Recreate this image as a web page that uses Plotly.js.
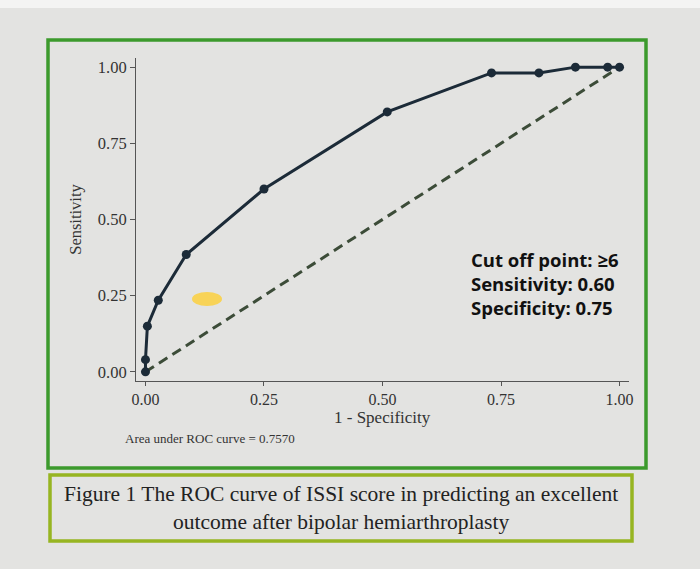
<!DOCTYPE html>
<html><head><meta charset="utf-8">
<script src="https://cdn.plot.ly/plotly-3.0.1.min.js"></script>
<style>html,body{margin:0;padding:0;background:#e3e3e1;}#chart{width:700px;height:569px;}</style>
</head><body><div id="chart"></div>
<script>
const fpr = [0, 0, 0.004, 0.027, 0.086, 0.25, 0.51, 0.73, 0.83, 0.907, 0.975, 1.0];
const tpr = [0, 0.04, 0.15, 0.235, 0.385, 0.60, 0.853, 0.981, 0.981, 1.0, 1.0, 1.0];
const refX = [0, 1];
const refY = [0, 1];
const tickVals = [0, 0.25, 0.5, 0.75, 1];
const tickText = ["0.00", "0.25", "0.50", "0.75", "1.00"];
const xTitle = "1 - Specificity";
const yTitle = "Sensitivity";
const aucText = "Area under ROC curve = 0.7570";
const cutText = "Cut off point: ≥6<br>Sensitivity: 0.60<br>Specificity: 0.75";
const captionText = "Figure 1 The ROC curve of ISSI score in predicting an excellent<br>outcome after bipolar hemiarthroplasty";

const serif = "Liberation Serif, Times New Roman, serif";
const traces = [
  {x: refX, y: refY, type: "scatter", mode: "lines",
   line: {color: "#3c4c38", width: 3, dash: "10px,6px"}, hoverinfo: "skip"},
  {x: fpr, y: tpr, type: "scatter", mode: "lines+markers",
   line: {color: "#1c2b38", width: 3}, marker: {color: "#1c2b38", size: 9}}
];
const layout = {
  width: 700, height: 569,
  paper_bgcolor: "#e3e3e1", plot_bgcolor: "rgba(0,0,0,0)",
  showlegend: false,
  margin: {l: 136, r: 71, t: 58, b: 188},
  xaxis: {range: [-0.02, 1.02], tickvals: tickVals, ticktext: tickText,
    showgrid: false, zeroline: false, showline: true, linecolor: "#555", linewidth: 1,
    ticks: "outside", ticklen: 4, tickcolor: "#555",
    tickfont: {family: serif, size: 16, color: "#333"}},
  yaxis: {range: [-0.03, 1.03], tickvals: tickVals, ticktext: tickText,
    showgrid: false, zeroline: false, showline: true, linecolor: "#555", linewidth: 1,
    ticks: "outside", ticklen: 5, tickcolor: "#555",
    tickfont: {family: serif, size: 16.5, color: "#333"},
    title: {text: yTitle, font: {family: serif, size: 16.5, color: "#333"}, standoff: 12}},
  shapes: [
    {type: "rect", xref: "paper", yref: "paper", x0: -0.3, x1: 1.4, y0: 1.155, y1: 1.2,
     line: {width: 0}, fillcolor: "#f4f4f3", layer: "below"},
    {type: "rect", xref: "paper", yref: "paper",
     x0: (48-136)/493, x1: (646-136)/493, y0: (381-468)/323, y1: (381-40)/323,
     line: {color: "#3c9a2c", width: 3.5}, fillcolor: "rgba(0,0,0,0)"},
    {type: "rect", xref: "paper", yref: "paper",
     x0: (50-136)/493, x1: (632-136)/493, y0: (381-541)/323, y1: (381-475)/323,
     line: {color: "#97b521", width: 3.5}, fillcolor: "rgba(0,0,0,0)"},
    {type: "circle", xref: "paper", yref: "paper",
     x0: (192-136)/493, x1: (222-136)/493, y0: (381-306)/323, y1: (381-292)/323,
     line: {width: 0}, fillcolor: "rgba(255,205,40,0.75)"}
  ],
  annotations: [
    {xref: "paper", yref: "paper", x: (382-136)/493, y: (381-417)/323, xanchor: "center", yanchor: "middle",
     text: xTitle, showarrow: false, font: {family: serif, size: 17, color: "#333"}},
    {xref: "paper", yref: "paper", x: (123-136)/493, y: (381-438)/323, xanchor: "left", yanchor: "middle",
     text: aucText, showarrow: false, font: {family: serif, size: 13, color: "#333"}},
    {xref: "paper", yref: "paper", x: (621-136)/493, y: (381-283)/323, xanchor: "right", yanchor: "middle",
     text: cutText, showarrow: false, align: "left",
     font: {family: "Open Sans, sans-serif", size: 18.5, color: "#111", weight: "bold"}},
    {xref: "paper", yref: "paper", x: (341-136)/493, y: (381-508)/323, xanchor: "center", yanchor: "middle",
     text: captionText, showarrow: false, align: "center",
     font: {family: serif, size: 21.5, color: "#222"}}
  ]
};
Plotly.newPlot("chart", traces, layout, {displayModeBar: false, staticPlot: true});
</script></body></html>
